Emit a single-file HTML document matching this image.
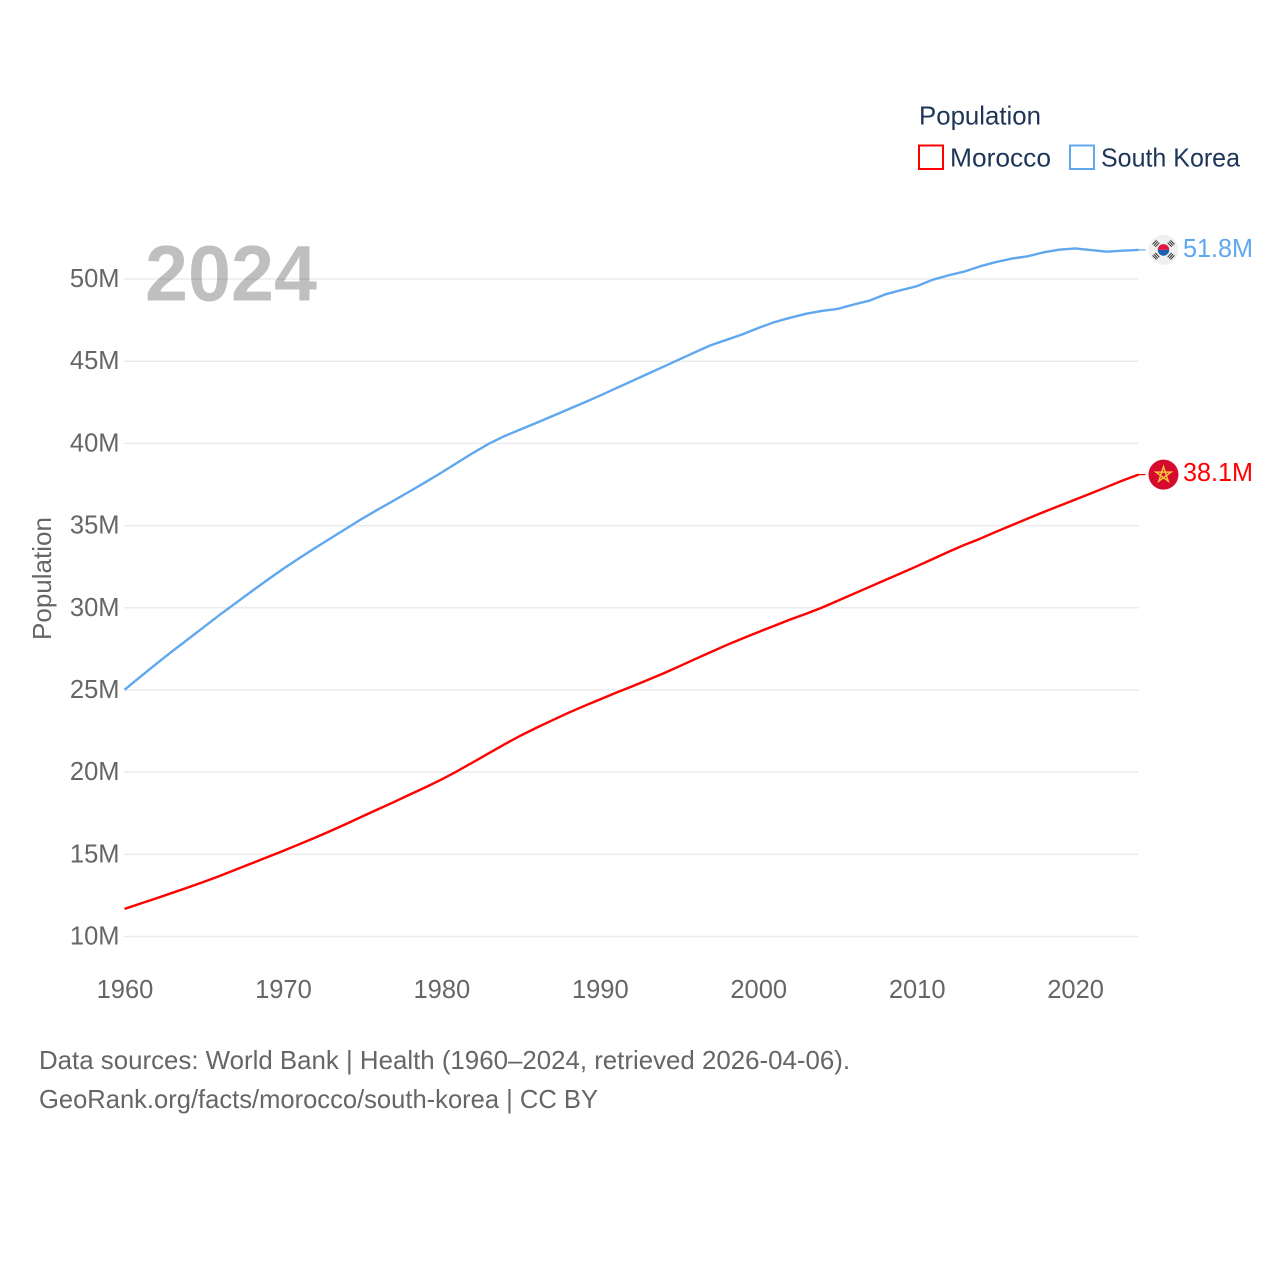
<!DOCTYPE html>
<html lang="en">
<head>
<meta charset="utf-8">
<title>Population: Morocco and South Korea</title>
<style>
html,body{margin:0;padding:0;background:#fff;width:1280px;height:1280px;overflow:hidden}
svg{display:block}
text{font-family:"Liberation Sans",sans-serif}
.tick{font-size:25.5px;fill:#666}
.leg{font-size:26px;fill:#1d3557}
.foot{font-size:26px;fill:#666}
</style>
</head>
<body>
<svg id="chart" xmlns="http://www.w3.org/2000/svg" width="1280" height="1280" viewBox="0 0 1280 1280">
  <g id="grid"></g>
  <g id="y-ticks"></g>
  <g id="x-ticks"></g>
  <text x="145" y="300.5" font-size="79" font-weight="700" fill="#000" fill-opacity="0.25" textLength="172" lengthAdjust="spacingAndGlyphs">2024</text>
  <text transform="translate(51,640) rotate(-90)" font-size="26" fill="#666" textLength="123" lengthAdjust="spacingAndGlyphs">Population</text>
  <g id="series"></g>

  <g id="flag-korea">
    <circle r="15" fill="#f0f0f0"></circle>
    <path d="M-5.8 0A5.8 5.8 0 0 1 5.8 0Z" fill="#e3173e"></path>
    <path d="M-5.8 0A5.8 5.8 0 0 0 5.8 0Z" fill="#1c60b0"></path>
    <g stroke="#333" stroke-width="1" fill="none">
      <path d="M-11 -5.5 L-7 -9.5 M-9.6 -4.2 L-5.6 -8.5 M-8.2 -3 L-4.2 -7.2"></path>
      <path d="M11 -5.5 L7 -9.5 M9.6 -4.2 L5.6 -8.5 M8.2 -3 L4.2 -7.2"></path>
      <path d="M-11 5.5 L-7 9.5 M-9.6 4.2 L-5.6 8.5 M-8.2 3 L-4.2 7.2"></path>
      <path d="M11 5.5 L7 9.5 M9.6 4.2 L5.6 8.5 M8.2 3 L4.2 7.2"></path>
    </g>
  </g>
  <g id="flag-morocco">
    <circle r="15" fill="#d60a2e"></circle>
    <polygon points="0,-8 4.7,6.5 -7.6,-2.5 7.6,-2.5 -4.7,6.5" fill="none" stroke="#f5c33b" stroke-width="1.5"></polygon>
  </g>
  <text id="label-korea" x="1183" font-size="26" fill="#5fa8f0" textLength="70" lengthAdjust="spacingAndGlyphs"></text>
  <text id="label-morocco" x="1183" font-size="26" fill="#ff0000" textLength="70" lengthAdjust="spacingAndGlyphs"></text>

  <g>
    <text class="leg" x="919" y="124.5" textLength="122" lengthAdjust="spacingAndGlyphs">Population</text>
    <g>
      <rect x="919" y="145.5" width="24" height="23.5" fill="#fff" stroke="#ff0000" stroke-width="2"></rect>
      <text class="leg" x="950" y="166.5" textLength="101" lengthAdjust="spacingAndGlyphs">Morocco</text>
    </g>
    <g>
      <rect x="1070" y="145.5" width="24" height="23.5" fill="#fff" stroke="#5fa8f0" stroke-width="2"></rect>
      <text class="leg" x="1101" y="166.5" textLength="139" lengthAdjust="spacingAndGlyphs">South Korea</text>
    </g>
  </g>

  <text class="foot" x="39" y="1069" textLength="811" lengthAdjust="spacingAndGlyphs">Data sources: World Bank | Health (1960–2024, retrieved 2026-04-06).</text>
  <text class="foot" x="39" y="1108" textLength="559" lengthAdjust="spacingAndGlyphs">GeoRank.org/facts/morocco/south-korea | CC BY</text>
</svg>
<script>
const startYear = 1960;
const yTickValues = [10, 15, 20, 25, 30, 35, 40, 45, 50];
const yTickLabels = ["10M", "15M", "20M", "25M", "30M", "35M", "40M", "45M", "50M"];
const xTickYears = [1960, 1970, 1980, 1990, 2000, 2010, 2020];
const moroccoValues = [11.68, 12.0, 12.32, 12.65, 12.98, 13.32, 13.68, 14.06, 14.44, 14.82,
  15.2, 15.6, 16.0, 16.42, 16.85, 17.3, 17.74, 18.18, 18.63, 19.08,
  19.55, 20.06, 20.6, 21.15, 21.7, 22.22, 22.7, 23.15, 23.6, 24.02,
  24.42, 24.82, 25.2, 25.6, 26.0, 26.43, 26.87, 27.3, 27.73, 28.13,
  28.52, 28.9, 29.28, 29.63, 30.0, 30.42, 30.84, 31.26, 31.68, 32.1,
  32.52, 32.96, 33.4, 33.82, 34.2, 34.62, 35.02, 35.42, 35.82, 36.2,
  36.58, 36.96, 37.35, 37.74, 38.1];
const koreaValues = [25.01, 25.8, 26.58, 27.34, 28.08, 28.82, 29.56, 30.27, 30.98, 31.68,
  32.36, 33.0, 33.62, 34.22, 34.82, 35.42, 35.98, 36.52, 37.08, 37.64,
  38.22, 38.82, 39.42, 39.98, 40.45, 40.85, 41.25, 41.66, 42.07, 42.48,
  42.9, 43.34, 43.78, 44.22, 44.66, 45.1, 45.54, 45.97, 46.3, 46.63,
  47.02, 47.37, 47.64, 47.88, 48.06, 48.18, 48.44, 48.68, 49.06, 49.32,
  49.56, 49.95, 50.22, 50.45, 50.77, 51.03, 51.24, 51.38, 51.62, 51.78,
  51.86, 51.76, 51.66, 51.72, 51.77];
const endLabels = ["38.1M", "51.8M"];

const NS = "http://www.w3.org/2000/svg";
function xScale(year) { return 124.5 + (year - 1960) * (1014 / 64); }
function yScale(v) { return 936.5 - (v - 10) * (657.5 / 40); }
function make(tag, parent, attrs) {
  const el = document.createElementNS(NS, tag);
  for (const k in attrs) el.setAttribute(k, attrs[k]);
  parent.appendChild(el);
  return el;
}

const gridGroup = document.getElementById("grid");
const yGroup = document.getElementById("y-ticks");
const xGroup = document.getElementById("x-ticks");
const seriesGroup = document.getElementById("series");

yTickValues.forEach(function (v, i) {
  const line = make("line", gridGroup, { x1: 124, x2: 1138.5, y1: yScale(v), y2: yScale(v), stroke: "#ebebeb", "stroke-width": 1.5 });
  
  
  const t = make("text", yGroup, { class: "tick", x: 119.5, y: yScale(v) + 8, "text-anchor": "end" });
  
  
  t.textContent = yTickLabels[i];
});

xTickYears.forEach(function (yr) {
  const t = make("text", xGroup, { class: "tick", x: xScale(yr) + 0.5, y: 998, "text-anchor": "middle" });
  
  
  t.textContent = String(yr);
});

function pathFor(values) {
  return values.map(function (v, i) {
    return (i ? "L" : "M") + xScale(startYear + i).toFixed(2) + " " + yScale(v).toFixed(2);
  }).join(" ");
}

const moroccoLine = make("path", seriesGroup, { d: pathFor(moroccoValues), fill: "none", stroke: "#ff0000", "stroke-width": 2.4, "stroke-linejoin": "round" });


const koreaLine = make("path", seriesGroup, { d: pathFor(koreaValues), fill: "none", stroke: "#5fa8f0", "stroke-width": 2.4, "stroke-linejoin": "round" });



const lastYear = startYear + moroccoValues.length - 1;
const mLast = moroccoValues[moroccoValues.length - 1];
const kLast = koreaValues[koreaValues.length - 1];
const mLeader = make("line", seriesGroup, { x1: xScale(lastYear), x2: xScale(lastYear) + 7, y1: yScale(mLast), y2: yScale(mLast), stroke: "#ff0000", "stroke-width": 1.2 });


const kLeader = make("line", seriesGroup, { x1: xScale(lastYear), x2: xScale(lastYear) + 7, y1: yScale(kLast), y2: yScale(kLast), stroke: "#5fa8f0", "stroke-width": 1.2 });



document.getElementById("flag-morocco").setAttribute("transform", "translate(1163.5," + yScale(mLast) + ")");
document.getElementById("flag-korea").setAttribute("transform", "translate(1163.5," + yScale(kLast) + ")");
const mLabel = document.getElementById("label-morocco");
mLabel.setAttribute("y", yScale(mLast) + 6.5);
mLabel.textContent = endLabels[0];
const kLabel = document.getElementById("label-korea");
kLabel.setAttribute("y", yScale(kLast) + 7);
kLabel.textContent = endLabels[1];
</script>
</body>
</html>
